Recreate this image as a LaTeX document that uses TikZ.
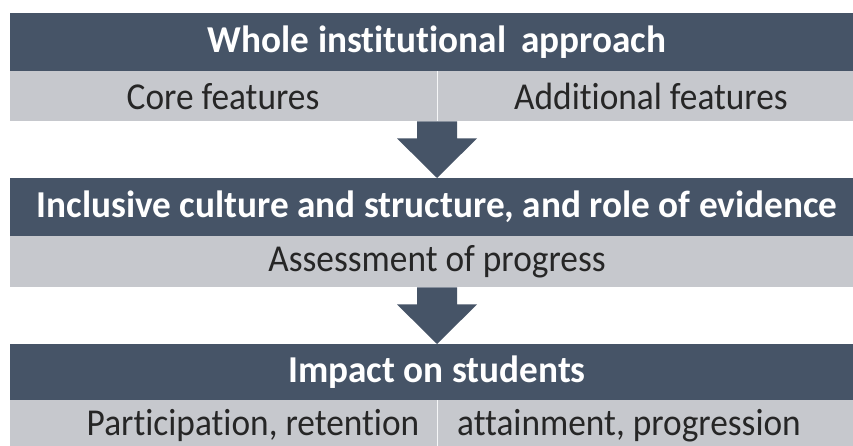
\documentclass[tikz,border=0pt]{standalone}
\usepackage{fontspec}
\setmainfont{Carlito}[Ligatures=CommonOff]
\newfontfamily\titlefont{Carlito}[Ligatures=CommonOff,FakeStretch=0.98]
\newfontfamily\bodyfont{Carlito}[Ligatures=CommonOff,FakeStretch=0.93]
\usetikzlibrary{calc}
\definecolor{darkbar}{HTML}{465467}
\definecolor{lightbar}{HTML}{C6C8CD}
\begin{document}
\begin{tikzpicture}[x=1pt,y=-1pt,
  darkbox/.style={fill=darkbar,anchor=north west,inner sep=0pt,minimum width=843pt,minimum height=58pt},
  lightbox/.style={fill=lightbar,anchor=north west,inner sep=0pt,minimum width=843pt,minimum height=50pt},
  titletext/.style={text=white,font=\titlefont\fontsize{38}{44}\selectfont\bfseries,inner sep=0pt},
  bodytext/.style={text=black!85,font=\bodyfont\fontsize{38}{44}\selectfont,inner sep=0pt},
  divider/.style={draw=white!85!lightbar,line width=1pt},
  blockarrow/.style={fill=darkbar}]
\useasboundingbox (0,0) rectangle (853,446);
\fill[white] (0,0) rectangle (853,446);
% bars
\node[darkbox]  (d1) at (9.5,13) {};
\node[lightbox] (l1) at (9.5,71) {};
\node[darkbox]  (d2) at (9.5,178) {};
\node[lightbox,minimum height=51pt] (l2) at (9.5,236) {};
\node[darkbox,minimum height=56pt]  (d3) at (9.5,344) {};
\node[lightbox,minimum height=50pt] (l3) at (9.5,400) {};
\coordinate (ax) at (437,0);
% dividers
\draw[divider] (l1.north -| ax) -- (l1.south -| ax);
\draw[divider] (l3.north -| ax) -- (l3.south -| ax);
% texts
\node[titletext] (t1) at (d1.center -| ax) {Whole institutional\, approach};
\node[bodytext] (c1) at ($(l1.center -| 223,0)$) {Core features};
\node[bodytext] (c2) at ($(l1.center -| 651,0)$) {Additional features};
\node[titletext] (t2) at (d2.center -| ax) {Inclusive culture and structure, and role of evidence};
\node[bodytext] (c3) at (l2.center -| ax) {Assessment of progress};
\node[titletext] (t3) at (d3.center -| ax) {Impact on students};
\node[bodytext] (c4) at ($(l3.center -| 253,0)$) {Participation, retention};
\node[bodytext] (c5) at ($(l3.center -| 629,0)$) {attainment, progression};
% arrows
\coordinate (s1) at (l1.south -| ax);
\coordinate (e1) at (d2.north -| ax);
\fill[blockarrow] ($(s1)+(-20,0)$) -- ($(s1)+(-20,17)$) -- ($(s1)+(-40,17)$) -- (e1) -- ($(s1)+(40,17)$) -- ($(s1)+(20,17)$) -- ($(s1)+(20,0)$) -- cycle;
\coordinate (s2) at (l2.south -| ax);
\coordinate (e2) at (d3.north -| ax);
\fill[blockarrow] ($(s2)+(-20,0)$) -- ($(s2)+(-20,17)$) -- ($(s2)+(-40,17)$) -- (e2) -- ($(s2)+(40,17)$) -- ($(s2)+(20,17)$) -- ($(s2)+(20,0)$) -- cycle;
\end{tikzpicture}
\end{document}
